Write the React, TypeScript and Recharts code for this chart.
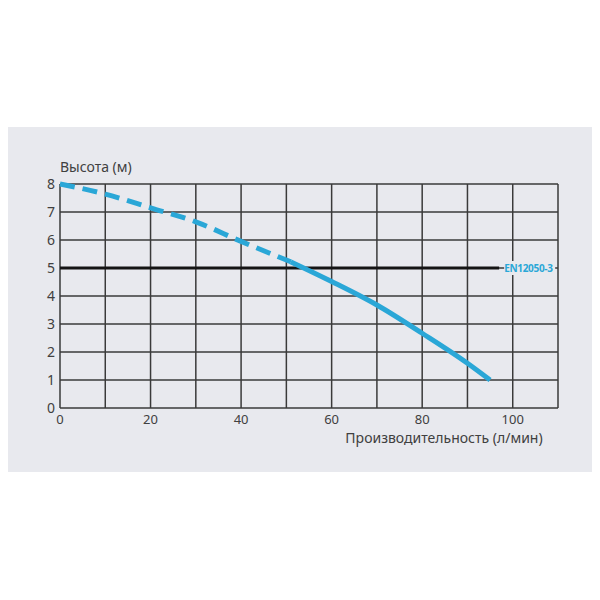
import { LineChart, Line, XAxis, YAxis, CartesianGrid, ReferenceLine } from 'recharts'

// pump curve, flow (l/min) -> head (m)
const dashedFlow = [0, 10, 20, 30, 40, 51]
const dashedHead = [8, 7.64, 7.15, 6.65, 5.95, 5.22]
const solidFlow = [51, 60, 70, 80, 90, 95]
const solidHead = [5.22, 4.52, 3.68, 2.67, 1.6, 1.0]

const standardHead = 5
const standardEnd = 97
const standardName = 'EN12050-3'

const xTicks = [0, 10, 20, 30, 40, 50, 60, 70, 80, 90, 100, 110]
const xLabelled = [0, 20, 40, 60, 80, 100]
const yTicks = [0, 1, 2, 3, 4, 5, 6, 7, 8]

const yTitle = 'Высота (м)'
const xTitle = 'Производительность (л/мин)'

const CYAN = '#2aa7d7'
const GRID = '#3a3a3a'
const TEXT = '#404040'
const PANEL = '#e8e9ee'
const FONT = '"Noto Sans", sans-serif'

const dashedData = dashedFlow.map((q, i) => ({ q, h: dashedHead[i] }))
const solidData = solidFlow.map((q, i) => ({ q, h: solidHead[i] }))

function StandardLabel({ viewBox }: any) {
  const x = viewBox.x + viewBox.width + 5
  const y = viewBox.y
  return (
    <g>
      <rect x={x} y={y - 7} width={51} height={14} fill={PANEL} />
      <text x={x} y={y + 4} fill={CYAN} fontSize={10} fontWeight={700} letterSpacing={-0.3}>
        {standardName}
      </text>
    </g>
  )
}

export default function App() {
  return (
    <div style={{ paddingTop: 119 }}>
      <div style={{ width: 584, height: 345, background: PANEL }}>
        <LineChart
          width={584}
          height={345}
          margin={{ top: 57, right: 34, bottom: 34, left: 0 }}
          style={{ fontFamily: FONT }}
        >
          <CartesianGrid stroke={GRID} strokeWidth={1.5} />
          <XAxis
            type="number"
            dataKey="q"
            domain={[0, 110]}
            ticks={xTicks}
            tickFormatter={(v) => (xLabelled.includes(v) ? String(v) : '')}
            axisLine={false}
            tickLine={false}
            tickSize={0}
            tickMargin={7}
            height={30}
            tick={{ fill: TEXT, fontSize: 13 }}
            label={{
              content: ({ viewBox }: any) => (
                <text x={viewBox.x + 384} y={viewBox.y + 35} textAnchor="middle" fill={TEXT} fontSize={14}>
                  {xTitle}
                </text>
              ),
            }}
          />
          <YAxis
            type="number"
            domain={[0, 8]}
            ticks={yTicks}
            axisLine={false}
            tickLine={false}
            tickSize={0}
            tickMargin={5}
            width={52}
            tick={{ fill: TEXT, fontSize: 14 }}
            label={{
              content: ({ viewBox }: any) => (
                <text x={viewBox.x + viewBox.width} y={viewBox.y - 12} textAnchor="start" fill={TEXT} fontSize={14}>
                  {yTitle}
                </text>
              ),
            }}
          />
          <ReferenceLine
            segment={[{ x: 0, y: standardHead }, { x: standardEnd, y: standardHead }]}
            stroke="#141414"
            strokeWidth={3}
            label={{ content: StandardLabel }}
          />
          <Line
            data={dashedData}
            dataKey="h"
            type="monotone"
            stroke={CYAN}
            strokeWidth={5}
            strokeDasharray="15 8"
            dot={false}
            isAnimationActive={false}
          />
          <Line
            data={solidData}
            dataKey="h"
            type="monotone"
            stroke={CYAN}
            strokeWidth={5}
            dot={false}
            isAnimationActive={false}
          />
        </LineChart>
      </div>
    </div>
  )
}
